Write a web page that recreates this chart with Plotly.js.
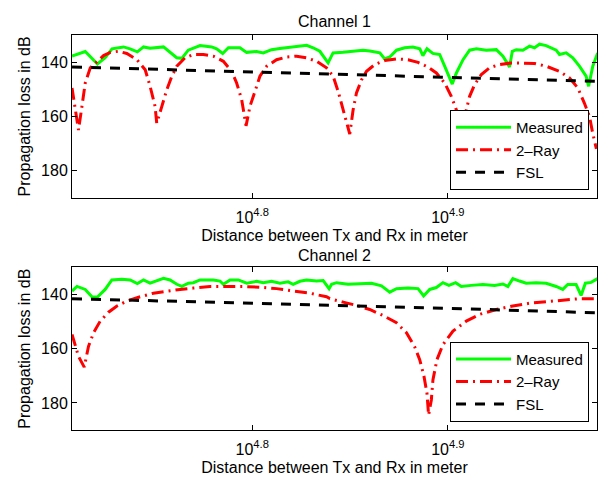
<!DOCTYPE html>
<html>
<head>
<meta charset="utf-8">
<script src="https://cdn.plot.ly/plotly-3.0.1.min.js"></script>
<style>html,body{margin:0;padding:0;background:#fff;}#chart{width:599px;height:478px;}</style>
</head>
<body>
<div id="chart"></div>
<script>
// ---- Channel 1 ----
var ch1MeasDist = [51040,51840,52590,53070,53500,54230,54650,55120,55520,55950,56840,57280,57730,58080,58520,59340,60160,60510,60940,61350,62190,62680,63420,63920,64550,65180,66210,67270,67780,68320,68990,69390,70220,71040,71880,72460,73320,73740,74180,74770,75500,76230,76850,77130,77500,78040,78670,79130,79840,80230,80860,81490,82140,83100,84090,84750,85410,85690,86090,86760,87440,87950,88480,89170,90230,90580,91290,92010,92730,93460,93740,94200,94740];
var ch1Measured = [137.8,136.1,140.7,138.4,135.1,134.4,135.1,136.2,134.4,134.9,134.4,136.4,138.4,138.6,135.6,133.9,134.4,135.1,136.8,134.7,134.7,136.4,136.1,136.6,135.4,135.0,134.4,133.8,134.7,136.0,140.3,136.6,136.4,135.9,135.6,135.9,136.6,138.8,138.1,135.6,134.7,134.4,135.1,137.6,135.1,136.8,137.2,141.5,148.1,144.0,139.1,135.6,135.1,135.6,135.4,137.8,141.8,136.0,135.4,135.6,134.1,134.7,133.4,133.9,135.6,137.2,136.6,138.4,141.5,145.2,148.9,141.5,136.6];
var ch1RayDist = [51040,51430,51640,51840,52150,52560,52970,53390,53910,54440,55090,55630,55950,56280,56390,56730,57060,57400,57740,58300,58870,59570,60270,60990,61590,61950,62320,62640,62930,63300,63670,64180,64930,65700,66480,67260,68060,68860,69400,69810,70220,70770,71050,71330,71760,72180,72880,73740,74770,75790,76690,77590,78360,79130,79750,80230,80600,80870,81170,81490,81970,82620,83420,84410,85580,86750,87950,89170,90580,91650,92550,93270,93830,94190,94600];
var ch1Ray = [149.5,165.0,156.3,147.7,142.1,139.7,137.6,136.4,136.0,136.8,139.1,142.8,148.9,156.3,162.5,156.3,150.2,145.2,141.5,138.4,137.2,137.2,137.8,139.7,143.4,147.7,153.9,163.5,156.3,150.8,145.2,141.5,139.1,138.1,137.8,138.4,139.7,142.1,145.2,150.8,157.6,166.5,157.6,151.4,146.5,143.4,140.9,139.4,138.8,139.1,140.1,141.8,144.0,147.7,152.6,157.6,162.5,168.0,157.6,152.6,148.3,144.6,142.1,140.9,140.3,140.3,140.5,141.5,143.4,145.8,149.5,155.1,160.0,166.2,172.0];
var ch1FslDist = [51040,63100,79430,94600];
var ch1Fsl = [141.8,143.5,145.6,147.1];

// ---- Channel 2 ----
var ch2MeasDist = [51040,51340,51840,52250,52590,53070,53490,54120,54650,55120,55520,55950,56840,57280,57740,58080,58530,58870,59340,60270,60750,60990,61470,62070,62690,63430,63920,64550,65190,65820,66210,66740,67260,68060,68590,69070,69270,69680,70630,71610,72600,73460,74180,74770,75790,76690,77200,77750,78360,78970,79530,80160,80700,81650,82770,83920,84740,85240,85740,86420,87100,88130,89170,90230,90930,91460,92370,92910,93380,94010,94740];
var ch2Measured = [138.7,137.0,138.1,140.8,140.9,138.1,134.6,134.3,134.6,135.9,134.6,135.8,134.0,134.6,136.2,137.0,135.8,135.6,134.6,134.6,135.0,136.2,134.6,134.6,135.8,135.1,135.6,135.1,135.8,135.3,136.2,135.1,134.6,135.0,134.8,137.8,136.2,135.6,136.2,135.9,135.8,136.8,139.1,137.8,137.6,137.8,140.5,138.1,137.4,135.6,136.6,135.6,137.0,136.6,136.3,136.6,136.1,137.0,134.1,135.0,135.8,135.6,135.8,137.0,138.1,136.3,136.3,140.3,135.8,135.5,134.1];
var ch2RayDist = [51040,51430,51780,52040,52350,52760,53280,53810,54440,55300,56170,57060,57960,58870,60040,61230,62440,63670,64930,66210,67520,68860,69130,70220,71330,72450,73600,74770,75650,76390,76840,77230,77500,77650,77900,78050,78420,78970,79910,81170,82450,84090,85740,87440,89170,90930,92730,94600];
var ch2Ray = [154.7,162.8,166.8,159.1,154.1,149.8,146.5,144.2,142.4,140.8,139.5,138.7,138.1,137.6,137.0,137.0,137.0,137.3,137.8,138.7,139.5,140.8,141.5,142.8,144.0,145.5,147.7,150.4,154.1,159.3,164.0,170.2,176.4,184.5,178.9,171.4,164.0,158.5,153.5,149.8,147.3,145.5,144.2,143.2,142.6,142.0,141.5,141.5];
var ch2FslDist = [51040,63100,79430,94600];
var ch2Fsl = [141.5,143.1,145.1,146.7];

// ---- labels ----
var seriesNames = ['Measured', '2\u2013Ray', 'FSL'];
var subplotTitles = ['Channel 1', 'Channel 2'];
var xTitle = 'Distance between Tx and Rx in meter';
var yTitle = 'Propagation loss in dB';
var xTickVals = [63095.73, 79432.82];
var xTickText = ['10<sup>4.8</sup>', '10<sup>4.9</sup>'];
var yTickVals = [140, 160, 180];

var FONT = 'Liberation Sans, Arial, Helvetica, sans-serif';
var greenLine = {color: '#00ff00', width: 3};
var redLine = {color: '#ff0000', width: 3, dash: '12px,5px,2px,5px'};
var blackLine = {color: '#000000', width: 3, dash: '10px,9px'};

var traces = [
  {x: ch1MeasDist, y: ch1Measured, name: seriesNames[0], mode: 'lines', line: greenLine, xaxis: 'x', yaxis: 'y', legend: 'legend'},
  {x: ch1RayDist, y: ch1Ray, name: seriesNames[1], mode: 'lines', line: redLine, xaxis: 'x', yaxis: 'y', legend: 'legend'},
  {x: ch1FslDist, y: ch1Fsl, name: seriesNames[2], mode: 'lines', line: blackLine, xaxis: 'x', yaxis: 'y', legend: 'legend'},
  {x: ch2MeasDist, y: ch2Measured, name: seriesNames[0], mode: 'lines', line: greenLine, xaxis: 'x2', yaxis: 'y2', legend: 'legend2'},
  {x: ch2RayDist, y: ch2Ray, name: seriesNames[1], mode: 'lines', line: redLine, xaxis: 'x2', yaxis: 'y2', legend: 'legend2'},
  {x: ch2FslDist, y: ch2Fsl, name: seriesNames[2], mode: 'lines', line: blackLine, xaxis: 'x2', yaxis: 'y2', legend: 'legend2'}
];

function xAxis(anchor) {
  return {
    type: 'log', range: [4.7079, 4.9762], anchor: anchor,
    tickmode: 'array', tickvals: xTickVals, ticktext: xTickText,
    ticks: 'inside', ticklen: 5, tickwidth: 1, tickcolor: '#000',
    showline: true, linecolor: '#000', linewidth: 1, mirror: 'ticks',
    showgrid: false, zeroline: false, ticklabelstandoff: 5,
    tickfont: {family: FONT, size: 16, color: '#000'},
    title: {text: xTitle, font: {family: FONT, size: 16, color: '#000'}, standoff: 4},
    automargin: false
  };
}
function yAxis(anchor, domain) {
  return {
    range: [190, 130], anchor: anchor, domain: domain,
    tickmode: 'array', tickvals: yTickVals,
    ticks: 'inside', ticklen: 5, tickwidth: 1, tickcolor: '#000',
    showline: true, linecolor: '#000', linewidth: 1, mirror: 'ticks',
    showgrid: false, zeroline: false,
    tickfont: {family: FONT, size: 16, color: '#000'},
    title: {text: yTitle, font: {family: FONT, size: 16, color: '#000'}, standoff: 6},
    automargin: false
  };
}

var legendBase = {
  xref: 'paper', yref: 'paper', xanchor: 'right', yanchor: 'bottom',
  bgcolor: '#ffffff', bordercolor: '#000', borderwidth: 1,
  font: {family: FONT, size: 15, color: '#000'},
  tracegroupgap: 0, itemwidth: 55
};

var layout = {
  width: 599, height: 478,
  margin: {l: 72, r: 2, t: 35, b: 48, pad: 0},
  paper_bgcolor: '#fff', plot_bgcolor: '#fff',
  font: {family: FONT, size: 16, color: '#000'},
  showlegend: true,
  xaxis: xAxis('y'),
  yaxis: yAxis('x', [0.588, 1]),
  xaxis2: xAxis('y2'),
  yaxis2: yAxis('x2', [0, 0.4114]),
  legend: Object.assign({}, legendBase, {x: 0.9848, y: 0.6076}),
  legend2: Object.assign({}, legendBase, {x: 0.9848, y: 0.021}),
  annotations: [
    {text: subplotTitles[0], xref: 'paper', yref: 'paper', x: 0.5, y: 1.0354, xanchor: 'center', yanchor: 'middle', showarrow: false, font: {family: FONT, size: 16, color: '#000'}},
    {text: subplotTitles[1], xref: 'paper', yref: 'paper', x: 0.5, y: 0.442, xanchor: 'center', yanchor: 'middle', showarrow: false, font: {family: FONT, size: 16, color: '#000'}}
  ]
};

Plotly.newPlot('chart', traces, layout, {staticPlot: true, displayModeBar: false});
</script>
</body>
</html>
